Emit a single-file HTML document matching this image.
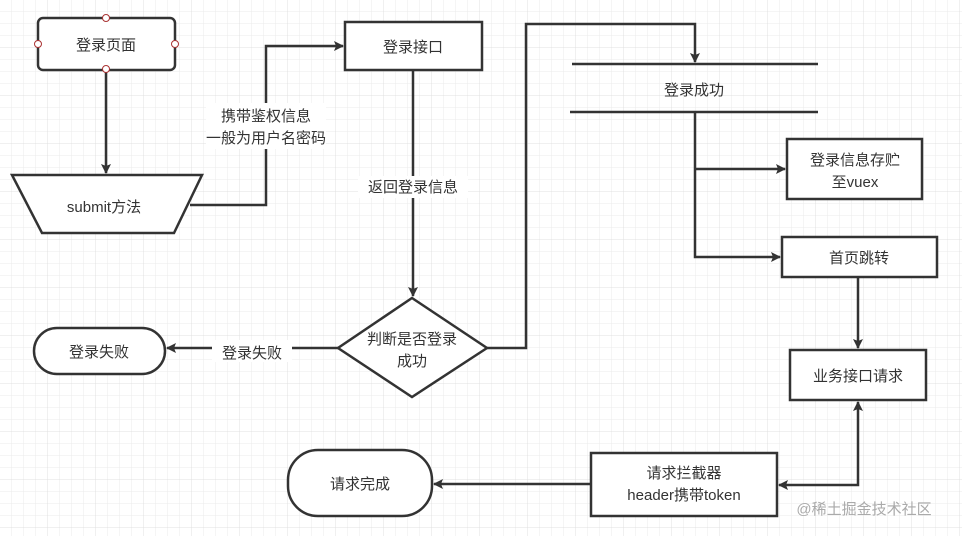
<!DOCTYPE html>
<html><head><meta charset="utf-8"><style>
html,body{margin:0;padding:0;background:#fff;}
svg{display:block;}
text{font-family:"Liberation Sans","Noto Sans CJK SC",sans-serif;font-size:15px;fill:#333;}
</style></head><body>
<svg width="962" height="536" viewBox="0 0 962 536" xmlns="http://www.w3.org/2000/svg">
<defs>
<pattern id="g" width="12" height="12" patternUnits="userSpaceOnUse"><path d="M12 0V12M0 12H12" stroke="#ebebeb" stroke-width="1" fill="none"/></pattern>
<pattern id="G" width="48" height="48" patternUnits="userSpaceOnUse"><path d="M48 0V48M0 48H48" stroke="#e0e0e0" stroke-width="1" fill="none"/></pattern>
<marker id="a" markerWidth="10" markerHeight="10" refX="9" refY="5" orient="auto" markerUnits="userSpaceOnUse"><path d="M0,0 L10,5 L0,10 L2,5Z" fill="#333"/></marker>
<marker id="as" markerWidth="10" markerHeight="10" refX="1" refY="5" orient="auto" markerUnits="userSpaceOnUse"><path d="M10,0 L0,5 L10,10 L8,5Z" fill="#333"/></marker>
</defs>
<rect width="962" height="536" fill="url(#g)"/>
<rect width="962" height="536" fill="url(#G)"/>
<g stroke="#333" stroke-width="2.5" fill="#fff">
<rect x="38" y="18" width="137" height="52" rx="5"/>
<path d="M12 175 H202 L174 233 H42 Z"/>
<rect x="345" y="22" width="137" height="48"/>
<path d="M412 298 L487 348 L412 397 L338 348 Z"/>
<rect x="34" y="328" width="131" height="46" rx="23"/>
<rect x="787" y="139" width="135" height="60"/>
<rect x="782" y="237" width="155" height="40"/>
<rect x="790" y="350" width="136" height="50"/>
<rect x="591" y="453" width="186" height="63"/>
<rect x="288" y="450" width="144" height="66" rx="30"/>
</g>
<g stroke="#333" stroke-width="2.5" fill="none">
<path d="M106 70 V173" marker-end="url(#a)"/>
<path d="M190 205 H266 V46 H343" marker-end="url(#a)"/>
<path d="M413 70 V296" marker-end="url(#a)"/>
<path d="M338 348 H167" marker-end="url(#a)"/>
<path d="M487 348 H526 V24 H695 V62" marker-end="url(#a)"/>
<path d="M572 64 H818 M570 112 H818"/>
<path d="M695 112 V257 H780" marker-end="url(#a)"/>
<path d="M695 169 H785" marker-end="url(#a)"/>
<path d="M858 277 V348" marker-end="url(#a)"/>
<path d="M858 402 V485 H779" marker-start="url(#as)" marker-end="url(#a)"/>
<path d="M591 484 H434" marker-end="url(#a)"/>
</g>
<g fill="#fff" stroke="#a33" stroke-width="1">
<circle cx="106" cy="18" r="3.5"/><circle cx="38" cy="44" r="3.5"/><circle cx="175" cy="44" r="3.5"/><circle cx="106" cy="69" r="3.5"/>
</g>
<g fill="#fff">
<rect x="206" y="103" width="120" height="46"/>
<rect x="358" y="176" width="110" height="22"/>
<rect x="212" y="340" width="80" height="22"/>
</g>
<g text-anchor="middle">
<text x="106" y="50">登录页面</text>
<text x="104" y="212">submit方法</text>
<text x="413" y="52">登录接口</text>
<text x="266" y="121">携带鉴权信息</text>
<text x="266" y="143">一般为用户名密码</text>
<text x="413" y="192">返回登录信息</text>
<text x="412" y="344">判断是否登录</text>
<text x="412" y="366">成功</text>
<text x="252" y="358">登录失败</text>
<text x="99" y="357">登录失败</text>
<text x="694" y="95">登录成功</text>
<text x="855" y="165">登录信息存贮</text>
<text x="855" y="187">至vuex</text>
<text x="859" y="263">首页跳转</text>
<text x="858" y="381">业务接口请求</text>
<text x="684" y="478">请求拦截器</text>
<text x="684" y="500">header携带token</text>
<text x="360" y="489">请求完成</text>
<text x="864" y="514" style="fill:#aaa;font-size:15px">@稀土掘金技术社区</text>
</g>
</svg>
</body></html>
